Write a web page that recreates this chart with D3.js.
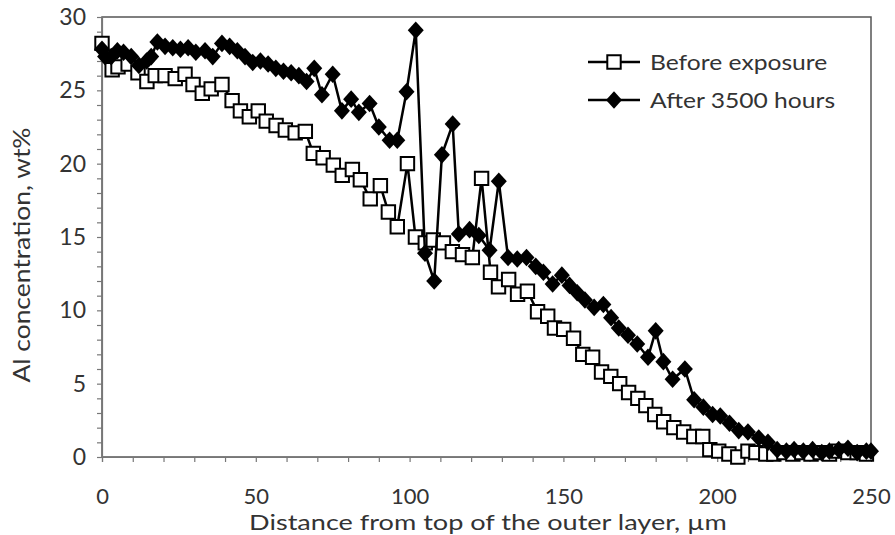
<!DOCTYPE html>
<html>
<head>
<meta charset="utf-8">
<script src="https://cdn.jsdelivr.net/npm/d3@7"></script>
<style>
  body { margin: 0; background: #fff; }
  svg { display: block; font-family: Lato, "DejaVu Sans", sans-serif; }
</style>
</head>
<body>
<script>
// Before exposure (squares), distance in um / Al wt%
const beforeX = [0, 3.3, 5.2, 8.5, 11.7, 14.6, 17.3, 20.5, 23.8, 27, 29.6, 32.6, 35.5, 39, 42.3, 45, 47.9, 50.8, 53.4, 56.6,
  59.6, 62.8, 66.1, 68.7, 71.9, 75.2, 78.1, 81.4, 84, 87.2, 90.5, 93.1, 96, 99.3, 101.9, 105.1, 107.7, 111, 113.9, 117.2,
  120.4, 123.4, 126.3, 128.9, 132.2, 135.1, 138.3, 141.6, 144.9, 147.1, 150.1, 153.3, 156.3, 159.5, 162.4, 165.4, 168.3, 171.2, 174.2, 176.8,
  179.7, 182.6, 185.9, 189.1, 192.4, 195.3, 197.6, 200.5, 203.8, 206.7, 210, 212.6, 215.8, 218.4, 221.7, 224.6, 227.5, 230.5, 233.5, 236.5,
  239.5, 242.5, 245.5, 248.5]
const beforeY = [28.2, 26.4, 26.6, 26.8, 26.2, 25.6, 26.0, 26.0, 25.8, 26.1, 25.4, 24.8, 25.1, 25.4, 24.3, 23.6, 23.2, 23.6, 22.9, 22.6,
  22.3, 22.1, 22.2, 20.7, 20.4, 19.9, 19.2, 19.6, 18.9, 17.6, 18.5, 16.7, 15.7, 20.0, 15.0, 14.6, 14.8, 14.6, 14.0, 13.8,
  13.6, 19.0, 12.6, 11.6, 12.1, 11.1, 11.3, 9.9, 9.6, 8.8, 8.7, 8.1, 7.0, 6.8, 5.8, 5.5, 5.0, 4.4, 4.0, 3.5,
  2.9, 2.4, 2.0, 1.7, 1.4, 1.4, 0.5, 0.4, 0.2, 0.0, 0.4, 0.3, 0.2, 0.2, 0.3, 0.2, 0.3, 0.2, 0.3, 0.2,
  0.4, 0.3, 0.3, 0.2]

// After 3500 hours (diamonds)
const afterX = [0, 1, 3, 5, 7, 9.5, 12, 14.5, 16, 18, 20.5, 23, 25.5, 28, 30.5, 33.5, 36, 39, 41.5, 44,
  46.5, 49, 51.5, 54, 56.5, 59, 61.5, 64, 66.5, 69, 71.5, 75, 78, 81, 83.5, 87, 90, 93.5, 96, 99,
  102, 105, 108, 110.5, 114, 116, 119.5, 122.5, 126, 129, 132, 135, 138, 141, 143.5, 146.5, 149.5, 152, 154.5, 157,
  160, 163, 165.5, 168, 171, 174, 177.5, 180, 182.5, 185.5, 189.5, 192.5, 195.5, 198.5, 201, 204, 207, 210, 213.5, 216.5,
  219.5, 222.5, 225, 228, 231, 234, 236.5, 239.5, 242.5, 245.5, 248.5, 250]
const afterY = [27.8, 27.3, 27.3, 27.7, 27.6, 27.3, 26.7, 27.0, 27.3, 28.3, 28.0, 27.9, 27.8, 27.9, 27.6, 27.7, 27.3, 28.2, 28.0, 27.7,
  27.3, 26.9, 27.0, 26.8, 26.5, 26.3, 26.2, 26.0, 25.6, 26.5, 24.7, 26.1, 23.6, 24.4, 23.5, 24.1, 22.5, 21.6, 21.6, 24.9,
  29.1, 13.9, 12.0, 20.6, 22.7, 15.2, 15.5, 15.1, 14.1, 18.8, 13.6, 13.5, 13.6, 13.0, 12.6, 11.8, 12.4, 11.7, 11.2, 10.7,
  10.2, 10.4, 9.5, 8.8, 8.3, 7.7, 6.8, 8.6, 6.5, 5.3, 6.0, 3.9, 3.4, 2.9, 2.8, 2.3, 1.8, 1.7, 1.3, 1.0,
  0.5, 0.4, 0.5, 0.4, 0.5, 0.3, 0.4, 0.5, 0.6, 0.3, 0.4, 0.4]

const xTicks = [0, 50, 100, 150, 200, 250]
const yTicks = [0, 5, 10, 15, 20, 25, 30]
const seriesNames = ["Before exposure", "After 3500 hours"]
const xTitle = "Distance from top of the outer layer, \u00b5m"
const yTitle = "Al concentration, wt%"

const w = 895
const h = 535

const svg = d3.select("body")
  .append("svg")
  .attr("width", w)
  .attr("height", h)

const xScale = d3.scaleLinear().domain([0, 250]).range([102, 871])
const yScale = d3.scaleLinear().domain([0, 30]).range([457, 17])

// plot border (top/right)
svg.append("rect")
  .attr("x", xScale(0))
  .attr("y", yScale(30))
  .attr("width", xScale(250) - xScale(0))
  .attr("height", yScale(0) - yScale(30))
  .attr("fill", "none")
  .attr("stroke", "#555")
  .attr("stroke-width", 1.5)

// minor ticks
const xAxisMinor = d3.axisBottom(xScale).tickValues(d3.range(0, 251, 10)).tickSize(5).tickFormat("")
const yAxisMinor = d3.axisLeft(yScale).tickValues(d3.range(0, 31, 1)).tickSize(5).tickFormat("")

svg.append("g")
  .attr("transform", "translate(0," + yScale(0) + ")")
  .call(xAxisMinor)
  .call(g => g.selectAll("line, path").attr("stroke", "#777").attr("stroke-width", 1.2))

svg.append("g")
  .attr("transform", "translate(" + xScale(0) + ",0)")
  .call(yAxisMinor)
  .call(g => g.selectAll("line, path").attr("stroke", "#777").attr("stroke-width", 1.2))

// tick labels
const xAxis = d3.axisBottom(xScale).tickValues(xTicks).tickSize(0).tickPadding(31)
svg.append("g")
  .attr("transform", "translate(0," + yScale(0) + ")")
  .call(xAxis)
  .call(g => g.select(".domain").remove())
  .call(g => g.selectAll("text").attr("font-size", 22).attr("fill", "#333").attr("font-family", "Lato"))

const yAxis = d3.axisLeft(yScale).tickValues(yTicks).tickSize(0).tickPadding(16)
svg.append("g")
  .attr("transform", "translate(" + xScale(0) + ",0)")
  .call(yAxis)
  .call(g => g.select(".domain").remove())
  .call(g => g.selectAll("text").attr("font-size", 23).attr("fill", "#333").attr("font-family", "Lato"))

// axis titles (source text is a bit wider than Lato, so stretch slightly)
svg.append("text")
  .attr("transform", "translate(488,530) scale(1.29,1)")
  .attr("text-anchor", "middle")
  .attr("font-size", 21)
  .attr("fill", "#333")
  .text(xTitle)

svg.append("text")
  .attr("transform", "translate(30,255) rotate(-90) scale(1.1,1)")
  .attr("text-anchor", "middle")
  .attr("font-size", 24)
  .attr("fill", "#333")
  .text(yTitle)

// diamond symbol (rotated square, a bit taller than wide)
const diamond = {
  draw(ctx, size) {
    const r = Math.sqrt(size) / 2
    ctx.moveTo(0, -r * 1.1)
    ctx.lineTo(r, 0)
    ctx.lineTo(0, r * 1.1)
    ctx.lineTo(-r, 0)
    ctx.closePath()
  }
}

const before = beforeX.map((x, i) => ({ x: x, y: beforeY[i] }))
const after = afterX.map((x, i) => ({ x: x, y: afterY[i] }))

const line = d3.line().x(d => xScale(d.x)).y(d => yScale(d.y))

svg.append("path")
  .datum(before)
  .attr("d", line)
  .attr("fill", "none")
  .attr("stroke", "#000")
  .attr("stroke-width", 2.5)

svg.selectAll(".sq")
  .data(before)
  .enter()
  .append("path")
  .attr("class", "sq")
  .attr("transform", d => "translate(" + xScale(d.x) + "," + yScale(d.y) + ")")
  .attr("d", d3.symbol().type(d3.symbolSquare).size(180))
  .attr("fill", "#fff")
  .attr("stroke", "#000")
  .attr("stroke-width", 2)

svg.append("path")
  .datum(after)
  .attr("d", line)
  .attr("fill", "none")
  .attr("stroke", "#000")
  .attr("stroke-width", 2.5)

svg.selectAll(".dm")
  .data(after)
  .enter()
  .append("path")
  .attr("class", "dm")
  .attr("transform", d => "translate(" + xScale(d.x) + "," + yScale(d.y) + ")")
  .attr("d", d3.symbol().type(diamond).size(256))
  .attr("fill", "#000")

// legend
const legend = svg.append("g")
const legY = [62, 100]
seriesNames.forEach((name, i) => {
  legend.append("line")
    .attr("x1", 588).attr("x2", 640)
    .attr("y1", legY[i]).attr("y2", legY[i])
    .attr("stroke", "#000")
    .attr("stroke-width", 2.5)
  legend.append("path")
    .attr("transform", "translate(614," + legY[i] + ")")
    .attr("d", i === 0 ? d3.symbol().type(d3.symbolSquare).size(180)() : d3.symbol().type(diamond).size(256)())
    .attr("fill", i === 0 ? "#fff" : "#000")
    .attr("stroke", i === 0 ? "#000" : "none")
    .attr("stroke-width", 2)
  legend.append("text")
    .attr("transform", "translate(650," + legY[i] + ") scale(1.12,1)")
    .attr("dy", "0.35em")
    .attr("font-size", 22)
    .attr("fill", "#333")
    .text(name)
})
</script>
</body>
</html>
